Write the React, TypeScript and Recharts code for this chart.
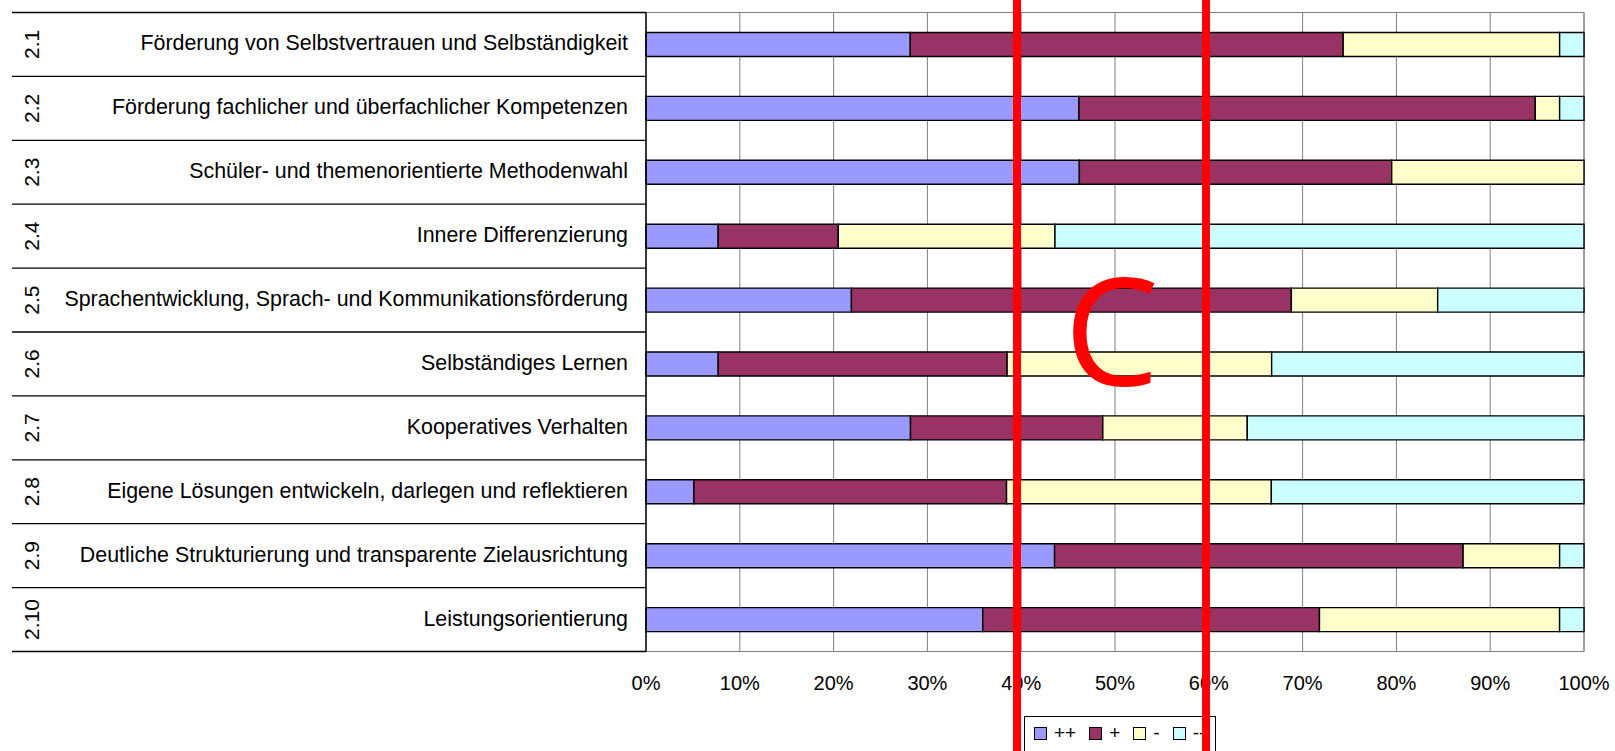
import React from "react";
import {
  BarChart,
  Bar,
  XAxis,
  YAxis,
  CartesianGrid,
  ReferenceArea,
} from "recharts";

// ---------------------------------------------------------------------------
// Data (shares per criterion)
// ---------------------------------------------------------------------------

const codes = ["2.1", "2.2", "2.3", "2.4", "2.5", "2.6", "2.7", "2.8", "2.9", "2.10"];

const criteria = [
  "Förderung von Selbstvertrauen und Selbständigkeit",
  "Förderung fachlicher und überfachlicher Kompetenzen",
  "Schüler- und themenorientierte Methodenwahl",
  "Innere Differenzierung",
  "Sprachentwicklung, Sprach- und Kommunikationsförderung",
  "Selbständiges Lernen",
  "Kooperatives Verhalten",
  "Eigene Lösungen entwickeln, darlegen und reflektieren",
  "Deutliche Strukturierung und transparente Zielausrichtung",
  "Leistungsorientierung",
];

const veryGood = [28.2, 46.2, 46.2, 7.7, 21.9, 7.7, 28.2, 5.1, 43.6, 35.9]; // ++
const good = [46.2, 48.7, 33.3, 12.8, 46.9, 30.8, 20.5, 33.3, 43.6, 35.9]; // +
const weak = [23.1, 2.6, 20.5, 23.1, 15.6, 28.2, 15.4, 28.2, 10.3, 25.6]; // -
const veryWeak = [2.6, 2.6, 0, 56.4, 15.6, 33.3, 35.9, 33.3, 2.6, 2.6]; // --

const seriesKeys = ["pp", "p", "m", "mm"];
const seriesNames = ["++", "+", "-", "--"];
const seriesColors = ["#9999FF", "#993366", "#FFFFCC", "#CCFFFF"];
const xTicks = [0, 0.1, 0.2, 0.3, 0.4, 0.5, 0.6, 0.7, 0.8, 0.9, 1];

// ---------------------------------------------------------------------------
// Layout
// ---------------------------------------------------------------------------

const W = 1615;
const H = 751;
const FONT = "'Liberation Sans', Arial, Helvetica, sans-serif";
const PLOT_TOP = 12.5;
const PLOT_BOTTOM = 651.5;
const AXIS_W = 646;
const X_AXIS_H = 30;
const BAND = (PLOT_BOTTOM - PLOT_TOP) / codes.length;

const data = codes.map((code, i) => ({
  code,
  name: criteria[i],
  pp: veryGood[i],
  p: good[i],
  m: weak[i],
  mm: veryWeak[i],
}));

// ---------------------------------------------------------------------------
// Two-level category tick: rotated code + right-aligned criterion
// ---------------------------------------------------------------------------

function CategoryTick(props: any) {
  const { y, payload } = props;
  const i: number = payload.index;
  const top = y - BAND / 2;
  return (
    <g>
      <line x1={12} x2={AXIS_W} y1={top} y2={top} stroke="#000" strokeWidth={1.3} />
      {i === codes.length - 1 && (
        <line x1={12} x2={AXIS_W} y1={top + BAND} y2={top + BAND} stroke="#000" strokeWidth={1.3} />
      )}
      <text
        transform={`translate(31, ${y}) rotate(-90)`}
        textAnchor="middle"
        dominantBaseline="central"
        fontFamily={FONT}
        fontSize={21}
        fill="#000"
      >
        {codes[i]}
      </text>
      <text
        x={628}
        y={y - 1}
        textAnchor="end"
        dominantBaseline="central"
        fontFamily={FONT}
        fontSize={21.4}
        fill="#000"
      >
        {criteria[i]}
      </text>
    </g>
  );
}

function LegendBox() {
  return (
    <div
      style={{
        position: "absolute",
        left: 1024,
        top: 716,
        display: "inline-flex",
        alignItems: "center",
        height: 40,
        padding: "0 10px 6px 9px",
        boxSizing: "border-box",
        border: "1px solid #000",
        background: "#fff",
        fontFamily: FONT,
        fontSize: 19,
        color: "#000",
      }}
    >
      {seriesNames.map((name, i) => (
        <span
          key={name}
          style={{ display: "flex", alignItems: "center", marginRight: i < seriesNames.length - 1 ? 13 : 0 }}
        >
          <span
            style={{
              display: "inline-block",
              width: 11,
              height: 11,
              background: seriesColors[i],
              border: "1px solid #000",
              marginRight: 7,
            }}
          />
          {name}
        </span>
      ))}
    </div>
  );
}

// ---------------------------------------------------------------------------
// Component
// ---------------------------------------------------------------------------

export default function App() {
  return (
    <div style={{ position: "absolute", left: 0, top: 0, width: W, height: H, background: "#fff", overflow: "hidden" }}>
      <BarChart
        width={W}
        height={H}
        data={data}
        layout="vertical"
        stackOffset="expand"
        barSize={24}
        margin={{ top: PLOT_TOP, right: W - 1584, bottom: H - PLOT_BOTTOM - X_AXIS_H, left: 0 }}
      >
        <CartesianGrid horizontal={false} stroke="#808080" strokeWidth={1} />
        <ReferenceArea x1={0} x2={1} fill="none" stroke="#808080" strokeWidth={1} ifOverflow="visible" />
        <XAxis
          type="number"
          domain={[0, 1]}
          ticks={xTicks}
          height={X_AXIS_H}
          tickFormatter={(v: number) => `${Math.round(v * 100)}%`}
          axisLine={false}
          tickLine={false}
          tickSize={0}
          tickMargin={24.5}
          interval={0}
          tick={{ fill: "#000", fontSize: 20, fontFamily: FONT }}
        />
        <YAxis
          type="category"
          dataKey="name"
          width={AXIS_W}
          axisLine={{ stroke: "#000", strokeWidth: 1.3 }}
          tickLine={false}
          interval={0}
          tick={<CategoryTick />}
        />
        {seriesKeys.map((key, i) => (
          <Bar
            key={key}
            dataKey={key}
            name={seriesNames[i]}
            stackId="a"
            fill={seriesColors[i]}
            stroke="#000"
            strokeWidth={1.4}
            isAnimationActive={false}
          />
        ))}
      </BarChart>

      <LegendBox />

      {/* red annotation drawn over the chart */}
      <svg width={W} height={H} style={{ position: "absolute", left: 0, top: 0, pointerEvents: "none" }}>
        <rect x={1013} y={0} width={8} height={H} fill="#ff0000" />
        <rect x={1202} y={0} width={8} height={H} fill="#ff0000" />
        <text x={1064} y={385.5} fontFamily="'Open Sans', 'Noto Sans', sans-serif" fontSize={151} fill="#ff0000">
          C
        </text>
      </svg>
    </div>
  );
}
